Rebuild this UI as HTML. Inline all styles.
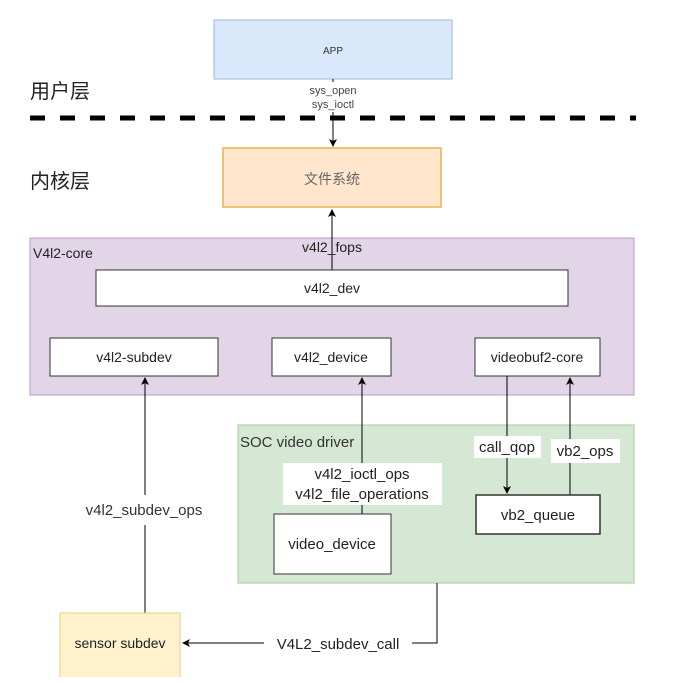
<!DOCTYPE html>
<html><head><meta charset="utf-8"><style>
body{margin:0;background:#fff;}
svg text{font-family:"Liberation Sans","Noto Sans CJK SC",sans-serif;}
</style></head><body>
<svg width="696" height="677" viewBox="0 0 696 677" xmlns="http://www.w3.org/2000/svg">
<defs><marker id="a" markerWidth="8" markerHeight="8" refX="7" refY="4" orient="auto" markerUnits="userSpaceOnUse"><path d="M0,0 L8,4 L0,8 L2,4 Z" fill="#000"/></marker></defs>
<rect x="214" y="20" width="238" height="59" fill="#dae8fc" stroke="#9db6dd"/>
<text x="333" y="54" font-size="10" text-anchor="middle" fill="#333">APP</text>
<text x="30" y="98" font-size="20" fill="#222">用户层</text>
<text x="30" y="188" font-size="20" fill="#222">内核层</text>
<line x1="30" y1="118" x2="636" y2="118" stroke="#000" stroke-width="5" stroke-dasharray="15,15"/>
<line x1="333" y1="79" x2="333" y2="146" stroke="#000" marker-end="url(#a)"/>
<rect x="300" y="82" width="66" height="30" fill="#fff"/>
<text x="333" y="94" font-size="11" text-anchor="middle" fill="#444">sys_open</text>
<text x="333" y="108" font-size="11" text-anchor="middle" fill="#444">sys_ioctl</text>
<rect x="223" y="148" width="218" height="59" fill="#ffe6cc" stroke="#e8b44c" stroke-width="1.5"/>
<text x="332" y="184" font-size="14" text-anchor="middle" fill="#666">文件系统</text>
<rect x="30" y="238" width="604" height="157" fill="#e1d5e7" stroke="#b89cc4"/>
<line x1="332" y1="270" x2="332" y2="210" stroke="#000" marker-end="url(#a)"/>
<text x="33" y="258" font-size="14" fill="#222">V4l2-core</text>
<text x="332" y="252" font-size="14" text-anchor="middle" fill="#222">v4l2_fops</text>
<rect x="96" y="270" width="472" height="36" fill="#fff" stroke="#333"/>
<text x="332" y="293" font-size="14" text-anchor="middle" fill="#222">v4l2_dev</text>
<rect x="50" y="338" width="168" height="38" fill="#fff" stroke="#333"/>
<text x="134" y="362" font-size="14" text-anchor="middle" fill="#222">v4l2-subdev</text>
<rect x="272" y="338" width="119" height="38" fill="#fff" stroke="#333"/>
<text x="331" y="362" font-size="14" text-anchor="middle" fill="#222">v4l2_device</text>
<rect x="475" y="338" width="125" height="38" fill="#fff" stroke="#333"/>
<text x="537" y="362" font-size="14" text-anchor="middle" fill="#222">videobuf2-core</text>
<rect x="238" y="425" width="396" height="158" fill="#d5e8d4" stroke="#9ccc94"/>
<text x="240" y="447" font-size="15" fill="#333">SOC video driver</text>
<line x1="145" y1="613" x2="145" y2="378" stroke="#000" marker-end="url(#a)"/>
<rect x="70" y="495" width="150" height="30" fill="#fff"/>
<text x="144" y="515" font-size="15" text-anchor="middle" fill="#333">v4l2_subdev_ops</text>
<line x1="362" y1="514" x2="362" y2="378" stroke="#000" marker-end="url(#a)"/>
<rect x="283" y="463" width="159" height="42" fill="#fff"/>
<text x="362" y="479" font-size="15" text-anchor="middle" fill="#222">v4l2_ioctl_ops</text>
<text x="362" y="499" font-size="15" text-anchor="middle" fill="#222">v4l2_file_operations</text>
<rect x="274" y="514" width="117" height="60" fill="#fff" stroke="#333"/>
<text x="332" y="549" font-size="15" text-anchor="middle" fill="#222">video_device</text>
<line x1="507" y1="376" x2="507" y2="493" stroke="#000" marker-end="url(#a)"/>
<line x1="570" y1="495" x2="570" y2="378" stroke="#000" marker-end="url(#a)"/>
<rect x="474" y="436" width="67" height="22" fill="#fff"/>
<text x="507" y="452" font-size="15" text-anchor="middle" fill="#222">call_qop</text>
<rect x="551" y="439" width="69" height="24" fill="#fff"/>
<text x="585" y="456" font-size="15" text-anchor="middle" fill="#222">vb2_ops</text>
<rect x="476" y="495" width="124" height="39" fill="#fff" stroke="#333" stroke-width="1.5"/>
<text x="538" y="520" font-size="15" text-anchor="middle" fill="#222">vb2_queue</text>
<rect x="60" y="613" width="120" height="70" fill="#fff2cc" stroke="#e8cf7a"/>
<text x="120" y="648" font-size="14" text-anchor="middle" fill="#222">sensor subdev</text>
<polyline points="437,583 437,643 183,643" fill="none" stroke="#000" marker-end="url(#a)"/>
<rect x="264" y="633" width="148" height="22" fill="#fff"/>
<text x="338" y="649" font-size="15" text-anchor="middle" fill="#222">V4L2_subdev_call</text>
</svg>
</body></html>
